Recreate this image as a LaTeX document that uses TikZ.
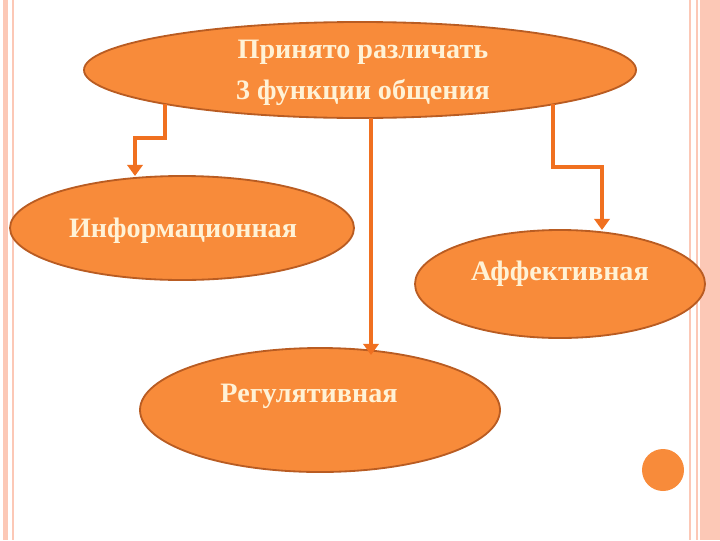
\documentclass[tikz,border=0pt]{standalone}
\usepackage{fontspec}
\setmainfont{Liberation Serif}
\usetikzlibrary{arrows.meta,shapes.geometric}

\definecolor{ovalfill}{RGB}{248,139,58}
\definecolor{ovaledge}{RGB}{185,92,34}
\definecolor{linkcol}{RGB}{240,112,32}
\definecolor{textcol}{RGB}{255,242,214}
\definecolor{stripe}{RGB}{252,200,182}

\tikzset{
    % ovals for the functions
    oval/.style={ellipse, draw=ovaledge, line width=1.3pt, fill=ovalfill, inner sep=0pt},
    % white bold labels
    ovaltext/.style={font=\fontsize{20}{29.5}\selectfont\bfseries, text=textcol, align=center},
    % orange connectors
    link/.style={draw=linkcol, line width=3pt, -{Triangle[width=11pt,length=8pt]}},
    % page border
    stripeline/.style={stripe, line width=1pt},
}

\begin{document}
\begin{tikzpicture}[x=0.025cm, y=-0.025cm]
    \useasboundingbox (0,0) rectangle (720,540);

    % Border
    \fill[stripe] (3,0) rectangle (8,540);
    \draw[stripeline] (13,0) -- (13,540);
    \fill[stripe] (700,0) rectangle (720,540);
    \draw[stripeline] (690,0) -- (690,540);
    \draw[stripeline] (697,0) -- (697,540);

    % Ovals
    \node[oval, minimum width=552*0.025cm, minimum height=96*0.025cm] (top) at (360,70) {};
    \node[oval, minimum width=344*0.025cm, minimum height=104*0.025cm] (info) at (182,228) {};
    \node[oval, minimum width=290*0.025cm, minimum height=108*0.025cm] (aff) at (560,284) {};
    \node[oval, minimum width=360*0.025cm, minimum height=124*0.025cm] (reg) at (320,410) {};

    % Labels
    \node[ovaltext] (toptext) at (363,73) {Принято различать\\3 функции общения};
    \node[ovaltext] (infotext) at (183,231) {Информационная};
    \node[ovaltext] (afftext) at (560,274) {Аффективная};
    \node[ovaltext] (regtext) at (309,396) {Регулятивная};

    % Decorative dot
    \fill[ovalfill] (663,470) circle (21*0.025cm);

    % Connectors
    \coordinate (l0) at (165,104);
    \coordinate (l1) at (135,176);
    \coordinate (m0) at (371,118);
    \coordinate (m1) at (371,355);
    \coordinate (r0) at (553,104);
    \coordinate (r1) at (602,230);
    \draw[link] (l0) -- (165,138) -| (l1);
    \draw[link] (m0) -- (m1);
    \draw[link] (r0) -- (553,167) -| (r1);
\end{tikzpicture}
\end{document}
